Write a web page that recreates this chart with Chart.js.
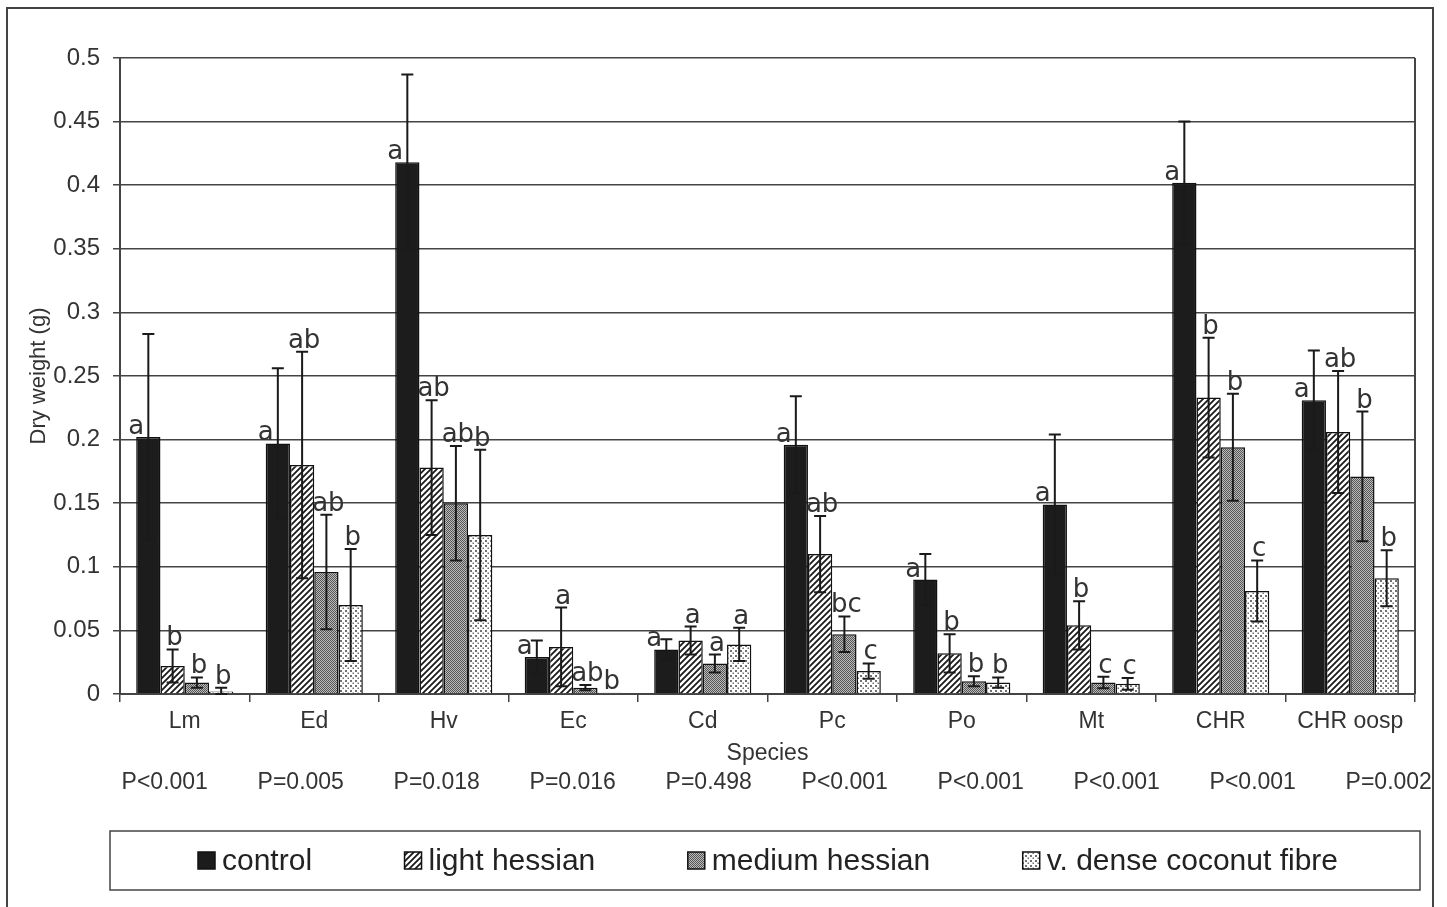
<!DOCTYPE html>
<html>
<head>
<meta charset="utf-8">
<title>Dry weight by species</title>
<script src="https://cdn.jsdelivr.net/npm/chart.js@4.4.1/dist/chart.umd.min.js"></script>
<style>
  html, body { margin: 0; padding: 0; background: #fff; }
  #wrap { width: 1447px; height: 907px; }
</style>
</head>
<body>
<div id="wrap"><canvas id="dryChart" width="1447" height="907"></canvas></div>
<script>
const species = ['Lm', 'Ed', 'Hv', 'Ec', 'Cd', 'Pc', 'Po', 'Mt', 'CHR', 'CHR oosp'];
const pValues = ['P<0.001', 'P=0.005', 'P=0.018', 'P=0.016', 'P=0.498', 'P<0.001', 'P<0.001', 'P<0.001', 'P<0.001', 'P=0.002'];

const control = [0.202, 0.197, 0.418, 0.029, 0.035, 0.196, 0.090, 0.149, 0.402, 0.231];
const lightHessian = [0.022, 0.180, 0.178, 0.037, 0.042, 0.110, 0.032, 0.054, 0.233, 0.206];
const mediumHessian = [0.009, 0.096, 0.150, 0.005, 0.024, 0.047, 0.010, 0.009, 0.194, 0.171];
const denseCoconut = [0.002, 0.070, 0.125, 0.001, 0.039, 0.018, 0.009, 0.008, 0.081, 0.091];

const controlErr = [0.081, 0.059, 0.069, 0.013, 0.008, 0.038, 0.020, 0.055, 0.048, 0.039];
const lightErr = [0.013, 0.089, 0.053, 0.031, 0.011, 0.030, 0.015, 0.019, 0.047, 0.048];
const mediumErr = [0.004, 0.045, 0.045, 0.002, 0.007, 0.014, 0.004, 0.0045, 0.042, 0.051];
const denseErr = [0.003, 0.044, 0.067, 0, 0.013, 0.006, 0.004, 0.0046, 0.024, 0.022];

const controlSig = ['a', 'a', 'a', 'a', 'a', 'a', 'a', 'a', 'a', 'a'];
const lightSig = ['b', 'ab', 'ab', 'a', 'a', 'ab', 'b', 'b', 'b', 'ab'];
const mediumSig = ['b', 'ab', 'ab', 'ab', 'a', 'bc', 'b', 'c', 'b', 'b'];
const denseSig = ['b', 'b', 'b', 'b', 'a', 'c', 'b', 'c', 'c', 'b'];

const errors = [controlErr, lightErr, mediumErr, denseErr];
const letters = [controlSig, lightSig, mediumSig, denseSig];

const sans = '"Liberation Sans", Arial, sans-serif';
Chart.defaults.font.family = sans;

function makeTile(size, paint) {
    const c = document.createElement('canvas');
    c.width = size;
    c.height = size;
    const g = c.getContext('2d');
    paint(g, size);
    return g.createPattern(c, 'repeat');
}

const hatch = makeTile(6, (g, s) => {
    g.fillStyle = '#fff';
    g.fillRect(0, 0, s, s);
    g.strokeStyle = '#1a1a1a';
    g.lineWidth = 1.8;
    g.beginPath();
    g.moveTo(-s, s * 2); g.lineTo(s * 2, -s);
    g.moveTo(-s, s); g.lineTo(s, -s);
    g.moveTo(0, s * 2); g.lineTo(s * 2, 0);
    g.stroke();
});

const dither = makeTile(2, (g) => {
    g.fillStyle = '#bcbcbc';
    g.fillRect(0, 0, 2, 2);
    g.fillStyle = '#555';
    g.fillRect(0, 0, 1, 1);
    g.fillRect(1, 1, 1, 1);
});

const dots = makeTile(5, (g, s) => {
    g.fillStyle = '#fff';
    g.fillRect(0, 0, s, s);
    g.fillStyle = '#707070';
    g.fillRect(0, 0, 2, 2);
    g.fillRect(2.5, 2.5, 1.5, 1.5);
});

const marks = {
    id: 'marks',
    afterDatasetsDraw(chart) {
        const { ctx, scales: { y } } = chart;
        ctx.save();
        chart.data.datasets.forEach((ds, i) => {
            const meta = chart.getDatasetMeta(i);
            meta.data.forEach((bar, j) => {
                const v = ds.data[j];
                const e = errors[i][j];
                let top = bar.y;
                if (e > 0) {
                    const hi = y.getPixelForValue(v + e);
                    const lo = y.getPixelForValue(Math.max(v - e, 0));
                    ctx.strokeStyle = '#1a1a1a';
                    ctx.lineWidth = 2;
                    ctx.beginPath();
                    ctx.moveTo(bar.x, hi); ctx.lineTo(bar.x, lo);
                    ctx.moveTo(bar.x - 6, hi); ctx.lineTo(bar.x + 6, hi);
                    ctx.moveTo(bar.x - 6, lo); ctx.lineTo(bar.x + 6, lo);
                    ctx.stroke();
                    top = hi;
                }
                ctx.fillStyle = '#333';
                ctx.font = '26px "DejaVu Sans", sans-serif';
                ctx.textAlign = 'center';
                ctx.textBaseline = 'alphabetic';
                if (i === 0) {
                    ctx.fillText(letters[i][j], bar.x - 12, bar.y - 3);
                } else {
                    ctx.fillText(letters[i][j], bar.x + 2, top - 4);
                }
            });
        });
        ctx.restore();
    },
    afterDraw(chart) {
        const { ctx, chartArea: ca, scales: { x } } = chart;
        ctx.save();

        // outer frame and right edge of the plot
        ctx.strokeStyle = '#444';
        ctx.lineWidth = 2;
        ctx.strokeRect(7, 8, 1426, 905);
        ctx.beginPath();
        ctx.moveTo(ca.right, ca.top);
        ctx.lineTo(ca.right, ca.bottom);
        ctx.stroke();

        // P values under the species names
        ctx.fillStyle = '#333';
        ctx.font = '23px ' + sans;
        ctx.textAlign = 'center';
        ctx.textBaseline = 'middle';
        pValues.forEach((p, j) => {
            ctx.fillText(p, x.getPixelForValue(j) + j * 6.5 - 20, ca.bottom + 89);
        });

        // legend
        const boxL = ca.left - 10, boxR = ca.right + 5, boxT = ca.bottom + 137, boxH = 59;
        ctx.strokeStyle = '#444';
        ctx.lineWidth = 1.5;
        ctx.strokeRect(boxL, boxT, boxR - boxL, boxH);
        ctx.font = '30px ' + sans;
        ctx.textAlign = 'left';
        const items = chart.data.datasets.map(ds => ({
            text: ds.label,
            fill: ds.backgroundColor,
            w: 24 + ctx.measureText(ds.label).width
        }));
        const start = boxL + 88, end = boxR - 82;
        const used = items.reduce((s, it) => s + it.w, 0);
        const gap = (end - start - used) / (items.length - 1);
        const cy = boxT + boxH / 2;
        let cx = start;
        items.forEach(it => {
            ctx.fillStyle = it.fill;
            ctx.fillRect(cx, cy - 8.5, 17, 17);
            ctx.strokeStyle = '#111';
            ctx.strokeRect(cx, cy - 8.5, 17, 17);
            ctx.fillStyle = '#222';
            ctx.fillText(it.text, cx + 24, cy + 1);
            cx += it.w + gap;
        });
        ctx.restore();
    }
};

new Chart(document.getElementById('dryChart').getContext('2d'), {
    type: 'bar',
    data: {
        labels: species,
        datasets: [
            { label: 'control', data: control, backgroundColor: '#1c1c1c' },
            { label: 'light hessian', data: lightHessian, backgroundColor: hatch },
            { label: 'medium hessian', data: mediumHessian, backgroundColor: dither },
            { label: 'v. dense coconut fibre', data: denseCoconut, backgroundColor: dots }
        ]
    },
    options: {
        responsive: false,
        animation: false,
        devicePixelRatio: 1,
        datasets: {
            bar: {
                borderColor: '#111',
                borderWidth: 1.5,
                barPercentage: 1.0,
                categoryPercentage: 0.75
            }
        },
        layout: { padding: { left: 20, right: 32, top: 58, bottom: 142 } },
        plugins: {
            legend: { display: false },
            tooltip: { enabled: false }
        },
        scales: {
            x: {
                grid: { drawOnChartArea: false, drawTicks: true, tickLength: 8, color: '#444', lineWidth: 1.5 },
                border: { display: true, color: '#444', width: 2 },
                ticks: {
                    color: '#333',
                    font: { size: 23, lineHeight: 1 },
                    padding: 8,
                    maxRotation: 0,
                    autoSkip: false
                },
                title: {
                    display: true,
                    text: 'Species',
                    color: '#333',
                    font: { size: 23, lineHeight: 1 },
                    padding: { top: 1, bottom: 0 }
                }
            },
            y: {
                min: 0,
                max: 0.5,
                grid: { color: '#444', lineWidth: 1.5, tickLength: 7 },
                border: { display: true, color: '#444', width: 2 },
                ticks: {
                    stepSize: 0.05,
                    color: '#333',
                    font: { size: 24, lineHeight: 1 },
                    padding: 13,
                    callback: v => String(+v.toFixed(2))
                },
                title: {
                    display: true,
                    text: 'Dry weight (g)',
                    color: '#333',
                    font: { size: 22, lineHeight: 1 },
                    padding: { top: 8, bottom: 0 }
                },
                afterFit: s => { s.width = 100; }
            }
        }
    },
    plugins: [marks]
});
</script>
</body>
</html>
